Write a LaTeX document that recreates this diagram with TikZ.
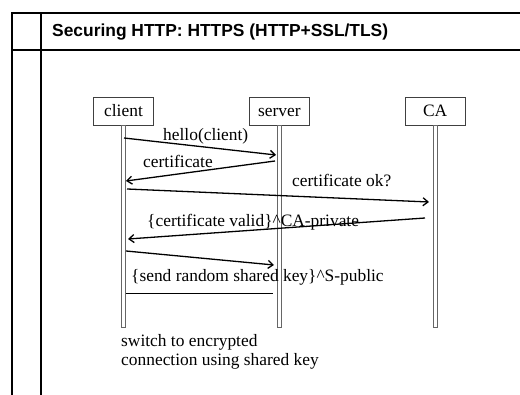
\documentclass[tikz,border=0pt]{standalone}
\usepackage{fontspec}
\setmainfont{Liberation Serif}
\newfontfamily\headfont{Liberation Sans}
\usetikzlibrary{arrows.meta, positioning}

\newcommand\msgsize{\fontsize{17.4pt}{19pt}\selectfont}

\tikzset{
    actor/.style={draw=black!75, line width=0.8pt, minimum width=60pt, minimum height=28pt, inner sep=0pt, text height=12pt, text depth=0pt},
    lifeline/.style={draw=black!60, line width=0.8pt, fill=white, minimum width=4pt, minimum height=202pt, inner sep=0pt},
    msg/.style={->, line width=1.3pt},
    lbl/.style={anchor=base west, inner sep=0pt}
}

\begin{document}
\begin{tikzpicture}[x=1pt, y=-1pt, >={Straight Barb[length=5pt,width=8pt]}, every node/.style={font=\msgsize}]
        \useasboundingbox (0,0) rectangle (520,395);
        % frame
        \draw[line width=1.8pt] (520,13) -- (12,13) -- (12,395);
        \draw[line width=1.8pt] (41,13) -- (41,395);
        \draw[line width=1.8pt] (12,50) -- (520,50);
        \node[lbl, font=\headfont\bfseries\msgsize] (title) at (52,36.5) {Securing HTTP: HTTPS (HTTP+SSL/TLS)};

        % participants
        \node[actor] (client) at (123.5,111) {client};
        \node[actor, right=95pt of client] (server) {server};
        \node[actor, right=95pt of server] (ca) {CA};
        \node[lifeline, below=0pt of client] (clientL) {};
        \node[lifeline, below=0pt of server] (serverL) {};
        \node[lifeline, below=0pt of ca] (caL) {};

        % message end points
        \coordinate (m1a) at (124,138);
        \coordinate (m1b) at (276,155);
        \coordinate (m2a) at (275,161);
        \coordinate (m2b) at (126,181);
        \coordinate (m3a) at (127,189);
        \coordinate (m3b) at (429,202);
        \coordinate (m4a) at (425,218);
        \coordinate (m4b) at (128,239);
        \coordinate (m5a) at (126,251);
        \coordinate (m5b) at (274,265);
        \coordinate (m6a) at (126,293);
        \coordinate (m6b) at (273,293);

        \draw[msg] (m1a) -- (m1b);
        \draw[msg] (m2a) -- (m2b);
        \draw[msg] (m3a) -- (m3b);
        \draw[msg] (m4a) -- (m4b);
        \draw[msg] (m5a) -- (m5b);
        \draw[line width=0.7pt] (m6a) -- (m6b);

        % labels
        \node[lbl] (hello) at (163,141) {hello(client)};
        \node[lbl] (cert) at (143,168) {certificate};
        \node[lbl] (certok) at (292,187) {certificate ok?};
        \node[lbl] (valid) at (147,226.5) {\{certificate valid\}\textasciicircum CA-private};
        \node[lbl] (sendkey) at (131,282) {\{send random shared key\}\textasciicircum S-public};
        \node[anchor=north west, inner sep=0pt, align=left] (switch) at (121,334.5) {switch to encrypted\\connection using shared key};
    \end{tikzpicture}
\end{document}
